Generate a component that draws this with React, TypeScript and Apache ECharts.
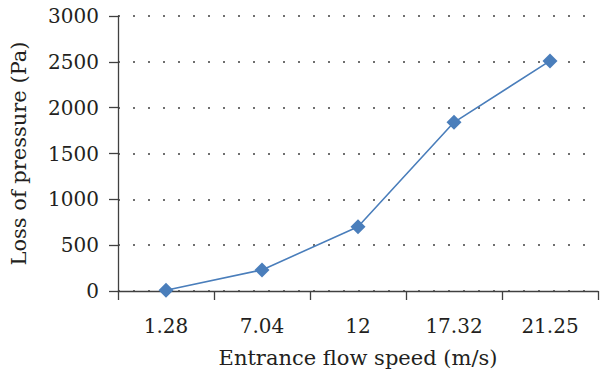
import React, { useEffect, useRef } from "react";
import * as echarts from "echarts";

const categories = ["1.28", "7.04", "12", "17.32", "21.25"];
const lossValues = [8, 230, 700, 1840, 2510];
const yTicks = { min: 0, max: 3000, interval: 500 };

export default function App() {
  const ref = useRef<HTMLDivElement>(null);
  useEffect(() => {
    if (!ref.current) return;
    const chart = echarts.init(ref.current, undefined, { renderer: "svg" });
    const font = "DejaVu Serif";
    const textColor = "#231f20";
    chart.setOption({
      animation: false,
      textStyle: { fontFamily: font },
      grid: { left: 114, right: 2, top: 16, bottom: 89, containLabel: false },
      xAxis: {
        type: "category",
        data: categories,
        boundaryGap: true,
        name: "Entrance flow speed (m/s)",
        nameLocation: "middle",
        nameGap: 56,
        nameTextStyle: { fontSize: 21, color: textColor, fontFamily: font },
        axisLine: { lineStyle: { color: "#404040", width: 1.3 } },
        axisTick: { show: true, length: 9, inside: false, alignWithLabel: false, lineStyle: { color: "#404040", width: 1.3 } },
        axisLabel: { fontSize: 20, color: textColor, margin: 25, fontFamily: font },
        splitLine: { show: false },
      },
      yAxis: {
        type: "value",
        min: yTicks.min,
        max: yTicks.max,
        interval: yTicks.interval,
        name: "Loss of pressure (Pa)",
        nameLocation: "middle",
        nameGap: 89,
        nameTextStyle: { fontSize: 21, color: textColor, fontFamily: font },
        axisLine: { show: true, lineStyle: { color: "#404040", width: 1.3 } },
        axisTick: { show: true, length: 9, lineStyle: { color: "#404040", width: 1.3 } },
        axisLabel: {
          fontSize: 20,
          color: textColor,
          margin: 19,
          fontFamily: font,
          formatter: (v: number) => String(v),
        },
        splitLine: { show: true, lineStyle: { color: "#404040", width: 1.6, type: [2, 13] } },
      },
      series: [
        {
          type: "line",
          data: lossValues,
          symbol: "diamond",
          symbolSize: 15,
          itemStyle: { color: "#4a7ebb" },
          lineStyle: { color: "#4a7ebb", width: 1.6 },
        },
      ],
    });
    return () => chart.dispose();
  }, []);
  return <div ref={ref} style={{ width: 600, height: 380, position: "absolute", left: 0, top: 0 }} />;
}
